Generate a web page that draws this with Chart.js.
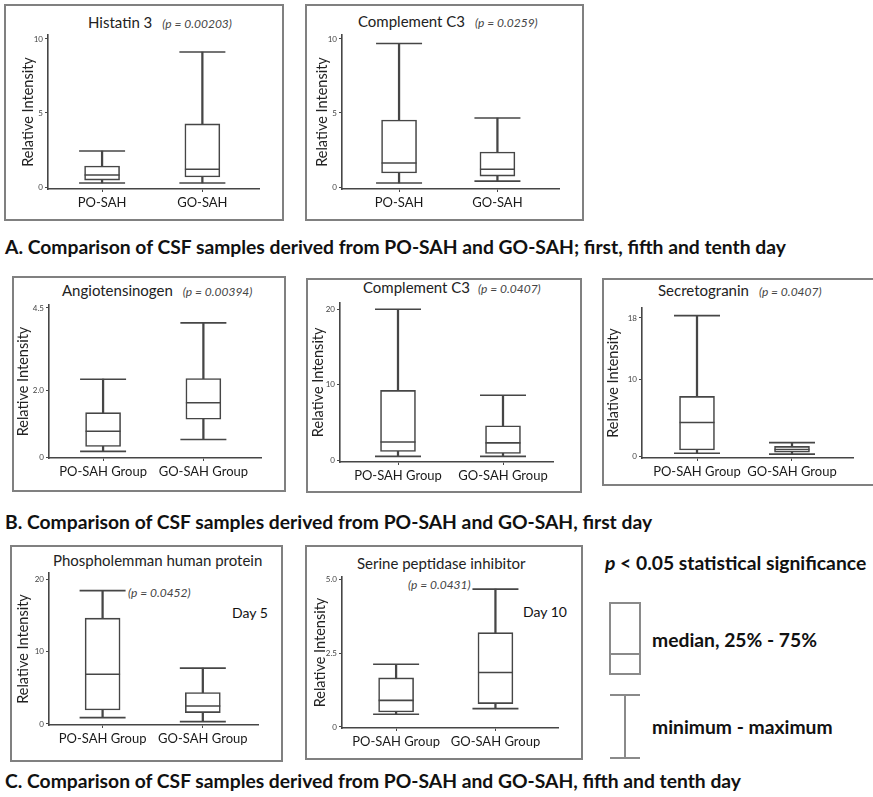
<!DOCTYPE html>
<html>
<head>
<meta charset="utf-8">
<script src="https://cdn.jsdelivr.net/npm/chart.js@4.4.0/dist/chart.umd.min.js"></script>
<style>
  body { margin: 0; background: #fff; font-family: Lato, sans-serif; color: #1a1a1a; }
  #page { position: relative; width: 873px; height: 797px; overflow: hidden; }
  #page canvas { position: absolute; }
  .panel { position: absolute; border: 2px solid #808080; box-sizing: border-box; }
  .txt { position: absolute; white-space: nowrap; transform: translateY(-50%); line-height: 1; }
  .ttl { font-size: 15px; color: #222; }
  .pv { font-size: 12px; font-style: italic; color: #444; }
  .ttl .pv { margin-left: 10px; }
  .day { font-size: 14px; color: #111; }
  .cap { font-size: 19.3px; font-weight: 700; color: #111; left: 5px; }
  .lg { font-size: 19.3px; font-weight: 700; color: #111; }
  .gl { position: absolute; background: #8a8a8a; }
</style>
</head>
<body>
<div id="page">
  <div class="txt ttl" style="left:88px;top:22px">Histatin 3<span class="pv">(p = 0.00203)</span></div>
  <div class="txt ttl" style="left:358px;top:21px">Complement C3<span class="pv">(p = 0.0259)</span></div>
  <div class="txt cap" style="top:247px">A. Comparison of CSF samples derived from PO-SAH and GO-SAH; first, fifth and tenth day</div>

  <div class="txt ttl" style="left:62px;top:290px">Angiotensinogen<span class="pv" style="margin-left:10px">(p = 0.00394)</span></div>
  <div class="txt ttl" style="left:363px;top:287px">Complement C3<span class="pv" style="margin-left:8px">(p = 0.0407)</span></div>
  <div class="txt ttl" style="left:658px;top:290px">Secretogranin<span class="pv">(p = 0.0407)</span></div>
  <div class="txt cap" style="top:522px">B. Comparison of CSF samples derived from PO-SAH and GO-SAH, first day</div>

  <div class="txt ttl" style="left:53px;top:560px">Phospholemman human protein</div>
  <div class="txt pv" style="left:128px;top:593px">(p = 0.0452)</div>
  <div class="txt day" style="left:232px;top:613px">Day 5</div>
  <div class="txt ttl" style="left:357px;top:563px">Serine peptidase inhibitor</div>
  <div class="txt pv" style="left:408px;top:585px">(p = 0.0431)</div>
  <div class="txt day" style="left:523px;top:612px">Day 10</div>
  <div class="txt cap" style="top:781px">C. Comparison of CSF samples derived from PO-SAH and GO-SAH, fifth and tenth day</div>

  <div class="txt lg" style="left:605px;top:563px"><i>p</i> &lt; 0.05 statistical significance</div>
  <div class="gl" style="left:609px;top:602px;width:32px;height:2px"></div>
  <div class="gl" style="left:609px;top:673px;width:32px;height:2px"></div>
  <div class="gl" style="left:609px;top:602px;width:2px;height:73px"></div>
  <div class="gl" style="left:639px;top:602px;width:2px;height:73px"></div>
  <div class="gl" style="left:609px;top:653px;width:32px;height:2px"></div>
  <div class="txt lg" style="left:652px;top:640px">median, 25% - 75%</div>
  <div class="gl" style="left:610px;top:694px;width:30px;height:2px"></div>
  <div class="gl" style="left:624px;top:695px;width:2px;height:63px"></div>
  <div class="gl" style="left:610px;top:757px;width:30px;height:2px"></div>
  <div class="txt lg" style="left:652px;top:727px">minimum - maximum</div>
</div>
<script>
// groups on the x axis
const groupsA = ["PO-SAH", "GO-SAH"];
const groupsBC = ["PO-SAH Group", "GO-SAH Group"];

// A: Histatin 3
const hisMin = [0.27, 0.27];
const hisQ1 = [0.47, 0.68];
const hisMed = [0.81, 1.2];
const hisQ3 = [1.42, 4.26];
const hisMax = [2.43, 9.12];

// A: Complement C3
const c3aMin = [0.27, 0.4];
const c3aQ1 = [0.95, 0.74];
const c3aMed = [1.62, 1.2];
const c3aQ3 = [4.53, 2.36];
const c3aMax = [9.7, 4.66];

// B: Angiotensinogen
const angMin = [0.17, 0.53];
const angQ1 = [0.32, 1.14];
const angMed = [0.78, 1.64];
const angQ3 = [1.34, 2.37];
const angMax = [2.35, 4.05];

// B: Complement C3
const c3bMin = [0.5, 0.5];
const c3bQ1 = [1.14, 0.89];
const c3bMed = [2.4, 2.28];
const c3bQ3 = [9.24, 4.56];
const c3bMax = [20, 8.6];

// B: Secretogranin
const secMin = [0.35, 0.25];
const secQ1 = [0.79, 0.5];
const secMed = [4.37, 0.85];
const secQ3 = [7.77, 1.25];
const secMax = [18.3, 1.75];

// C: Phospholemman (day 5)
const phoMin = [0.88, 0.32];
const phoQ1 = [1.94, 1.57];
const phoMed = [6.87, 2.49];
const phoQ3 = [14.6, 4.33];
const phoMax = [18.4, 7.7];

// C: Serine peptidase inhibitor (day 10)
const serMin = [0.43, 0.62];
const serQ1 = [0.51, 0.79];
const serMed = [0.9, 1.84];
const serQ3 = [1.66, 3.19];
const serMax = [2.12, 4.66];

// y tick values and labels
const ticks10 = [0, 5, 10];
const ticks10Labels = ["0", "5", "10"];
const ticksAng = [0, 2, 4.5];
const ticksAngLabels = ["0", "2.0", "4.5"];
const ticks20 = [0, 10, 20];
const ticks20Labels = ["0", "10", "20"];
const ticksSec = [0, 10, 18];
const ticksSecLabels = ["0", "10", "18"];
const ticksSer = [0, 2.5, 5];
const ticksSerLabels = ["0", "2.5", "5.0"];

const INK = "#464646";
const LW = 1.6;
const BOX_W = 35;
const CAP_W = 46;
const Y_TITLE = 14.5;

Chart.defaults.font.family = "Lato, sans-serif";
Chart.defaults.color = "#222";

const page = document.getElementById("page");

// box: [x, y, w, h] of the framed panel, area: [left, right, top, bottom] of the plot
function boxChart(p) {
  const [bx, by, bw, bh] = p.box;
  const [al, ar, at, ab] = p.area;

  const frame = document.createElement("div");
  frame.className = "panel";
  Object.assign(frame.style, { left: bx + "px", top: by + "px", width: bw + "px", height: bh + "px" });
  page.appendChild(frame);

  const cv = document.createElement("canvas");
  cv.width = bw;
  cv.height = bh;
  cv.style.left = bx + "px";
  cv.style.top = by + "px";
  page.appendChild(cv);

  const yLeft = p.ytx - (Y_TITLE * 1.2) / 2;
  const unit = p.centers[1] - p.centers[0];
  const xMin = -(p.centers[0] - al) / unit;
  const xMax = 1 + (ar - p.centers[1]) / unit;

  const pts = (arr) => arr.map((v, i) => ({ x: i, y: v }));
  const span = (lo, hi) => lo.map((v, i) => ({ x: i, y: [v, hi[i]] }));
  const mark = (arr, w) => ({
    type: "line",
    data: pts(arr),
    showLine: false,
    pointStyle: "line",
    pointRadius: w / 2,
    pointBorderWidth: LW,
    pointBorderColor: INK,
    pointBackgroundColor: INK,
    order: 0,
  });
  const axisGrid = { drawOnChartArea: false, drawTicks: true, tickLength: 3, color: INK, lineWidth: 1, offset: false };

  new Chart(cv, {
    type: "bar",
    data: {
      datasets: [
        mark(p.med, BOX_W),
        mark(p.max, CAP_W),
        mark(p.min, CAP_W),
        {
          type: "bar",
          data: span(p.q1, p.q3),
          backgroundColor: "#fff",
          borderColor: INK,
          borderWidth: LW,
          borderSkipped: false,
          barThickness: BOX_W,
          grouped: false,
          order: 1,
        },
        {
          type: "bar",
          data: span(p.min, p.max),
          backgroundColor: INK,
          borderWidth: 0,
          barThickness: LW,
          grouped: false,
          order: 2,
        },
      ],
    },
    options: {
      responsive: false,
      animation: false,
      events: [],
      layout: { padding: { left: yLeft - bx, right: bx + bw - ar, top: at - by, bottom: 0 } },
      plugins: { legend: { display: false }, tooltip: { enabled: false } },
      scales: {
        x: {
          type: "linear",
          min: xMin,
          max: xMax,
          offset: false,
          afterFit: (s) => { s.height = by + bh - ab; },
          afterBuildTicks: (s) => { s.ticks = p.groups.map((g, i) => ({ value: i })); },
          grid: axisGrid,
          border: { display: true, color: INK, width: LW },
          ticks: {
            callback: (v, i) => p.groups[i],
            autoSkip: false,
            maxRotation: 0,
            padding: 3,
            font: { size: 13 },
            color: "#1a1a1a",
          },
        },
        y: {
          min: p.yMin,
          max: p.yMax,
          afterFit: (s) => { s.width = al - yLeft; },
          afterBuildTicks: (s) => { s.ticks = p.yTicks.map((v) => ({ value: v })); },
          grid: axisGrid,
          border: { display: true, color: INK, width: LW },
          ticks: {
            callback: (v, i) => p.yLabels[i],
            autoSkip: false,
            padding: 2,
            font: { size: 8 },
            color: "#444",
          },
          title: { display: true, text: "Relative Intensity", font: { size: Y_TITLE }, color: "#222", padding: 0 },
        },
      },
    },
  });
}

boxChart({ box: [4, 4, 280, 217], area: [48, 263, 35, 189], ytx: 28, centers: [103, 205], yMin: -0.135, yMax: 10.27,
  groups: groupsA, yTicks: ticks10, yLabels: ticks10Labels, min: hisMin, q1: hisQ1, med: hisMed, q3: hisQ3, max: hisMax });
boxChart({ box: [305, 4, 279, 217], area: [342, 563, 35, 189], ytx: 322, centers: [400, 500], yMin: -0.135, yMax: 10.27,
  groups: groupsA, yTicks: ticks10, yLabels: ticks10Labels, min: c3aMin, q1: c3aQ1, med: c3aMed, q3: c3aQ3, max: c3aMax });

boxChart({ box: [12, 276, 274, 216], area: [49, 265, 305, 458], ytx: 23, centers: [104, 206], yMin: -0.03, yMax: 4.59,
  groups: groupsBC, yTicks: ticksAng, yLabels: ticksAngLabels, min: angMin, q1: angQ1, med: angMed, q3: angQ3, max: angMax });
boxChart({ box: [306, 278, 276, 215], area: [340, 553, 295, 462], ytx: 318, centers: [398, 503], yMin: -0.25, yMax: 20.89,
  groups: groupsBC, yTicks: ticks20, yLabels: ticks20Labels, min: c3bMin, q1: c3bQ1, med: c3bMed, q3: c3bQ3, max: c3bMax });
boxChart({ box: [602, 278, 276, 208], area: [642, 853, 308, 458], ytx: 613, centers: [697, 792], yMin: -0.26, yMax: 19.3,
  groups: groupsBC, yTicks: ticksSec, yLabels: ticksSecLabels, min: secMin, q1: secQ1, med: secMed, q3: secQ3, max: secMax });

boxChart({ box: [10, 545, 273, 217], area: [49, 260, 573, 725], ytx: 23, centers: [103, 204], yMin: -0.14, yMax: 20.83,
  groups: groupsBC, yTicks: ticks20, yLabels: ticks20Labels, min: phoMin, q1: phoQ1, med: phoMed, q3: phoQ3, max: phoMax });
boxChart({ box: [305, 545, 278, 215], area: [342, 562, 577, 728], ytx: 320, centers: [397, 498], yMin: -0.034, yMax: 5.07,
  groups: groupsBC, yTicks: ticksSer, yLabels: ticksSerLabels, min: serMin, q1: serQ1, med: serMed, q3: serQ3, max: serMax });
</script>
</body>
</html>
